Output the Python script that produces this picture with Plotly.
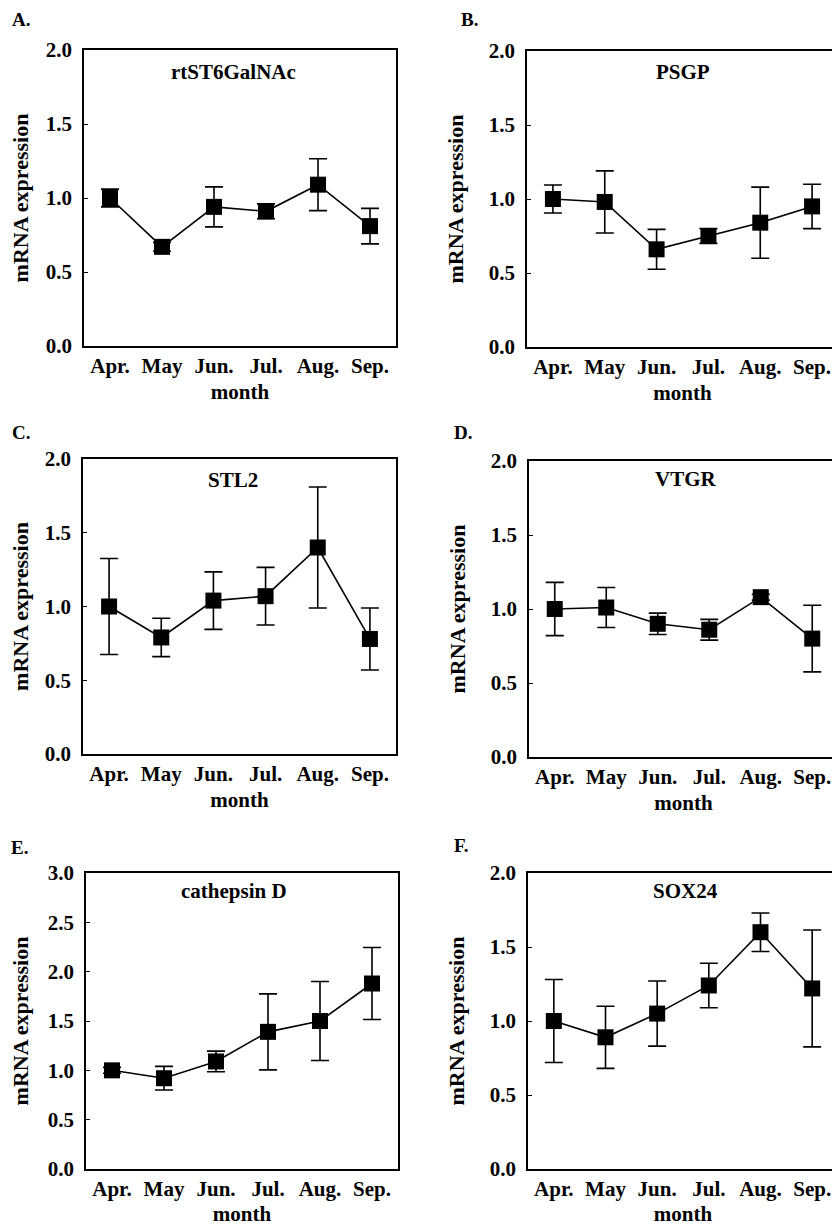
import plotly.graph_objects as go

months = ["Apr.", "May", "Jun.", "Jul.", "Aug.", "Sep."]
panel_labels = ["A.", "B.", "C.", "D.", "E.", "F."]
genes = ["rtST6GalNAc", "PSGP", "STL2", "VTGR", "cathepsin D", "SOX24"]

rtST6GalNAc_mean = [1.00, 0.67, 0.94, 0.91, 1.09, 0.81]
rtST6GalNAc_err = [0.06, 0.03, 0.135, 0.05, 0.175, 0.12]

PSGP_mean = [1.00, 0.98, 0.66, 0.75, 0.84, 0.95]
PSGP_err = [0.095, 0.21, 0.135, 0.05, 0.24, 0.15]

STL2_mean = [1.00, 0.79, 1.04, 1.07, 1.40, 0.78]
STL2_err = [0.325, 0.13, 0.195, 0.195, 0.41, 0.21]

VTGR_mean = [1.00, 1.01, 0.90, 0.86, 1.08, 0.80]
VTGR_err = [0.18, 0.135, 0.072, 0.07, 0.02, 0.225]

cathepsinD_mean = [1.00, 0.92, 1.09, 1.39, 1.50, 1.88]
cathepsinD_err = [0.03, 0.12, 0.105, 0.385, 0.40, 0.365]

SOX24_mean = [1.00, 0.89, 1.05, 1.24, 1.60, 1.22]
SOX24_err = [0.28, 0.21, 0.22, 0.15, 0.13, 0.395]

y_max = [2.0, 2.0, 2.0, 2.0, 3.0, 2.0]

means = [rtST6GalNAc_mean, PSGP_mean, STL2_mean, VTGR_mean, cathepsinD_mean, SOX24_mean]
errs = [rtST6GalNAc_err, PSGP_err, STL2_err, VTGR_err, cathepsinD_err, SOX24_err]

# page body has an 8px margin: the figure is drawn 8px right/down
OFF = 8
W, H = 840 - OFF, 1226 - OFF
# pixel boxes in page coordinates: left, right, top, bottom
boxes = [
    (84, 396, 50, 346),
    (527, 838, 51, 347),
    (83, 396, 459, 754),
    (529, 838, 461, 757),
    (86, 398, 873, 1169),
    (528, 838, 873, 1169),
]
title_pos = [(233, 72), (683, 72), (233, 480), (686, 479), (234, 891), (685, 891)]
label_pos = [(10, 19), (459, 19), (10, 432), (452, 432), (9, 847), (452, 845)]


def px(xp):
    return (xp - OFF) / W


def py(yp):
    return 1 - (yp - OFF) / H


FONT = "Liberation Serif"
FS = 21
fig = go.Figure()
annotations = []
layout = dict(
    width=W, height=H,
    margin=dict(l=0, r=0, t=0, b=0, autoexpand=False),
    paper_bgcolor="white", plot_bgcolor="white",
    showlegend=False,
    font=dict(family=FONT, color="black", size=18, weight="bold"),
)

for i in range(6):
    n = "" if i == 0 else str(i + 1)
    l, r, t, b = boxes[i]
    fig.add_trace(go.Scatter(
        x=months, y=means[i],
        mode="lines+markers",
        line=dict(color="black", width=1.6),
        marker=dict(symbol="square", size=16, color="black"),
        error_y=dict(type="data", array=errs[i], visible=True,
                     color="black", thickness=1.6, width=9),
        xaxis="x" + n, yaxis="y" + n,
        cliponaxis=False,
    ))
    layout["xaxis" + n] = dict(
        domain=[px(l), px(r)], anchor="y" + n, automargin=False,
        type="category", range=[-0.5, 5.5],
        showline=True, mirror=True, linecolor="black", linewidth=1.5,
        showgrid=False, zeroline=False, ticks="",
        tickfont=dict(family=FONT, size=FS, weight="bold"),
        ticklabelstandoff=0,
        title=dict(text="month", font=dict(family=FONT, size=FS, weight="bold"), standoff=7),
        fixedrange=True,
    )
    layout["yaxis" + n] = dict(
        domain=[py(b), py(t)], anchor="x" + n, automargin=False,
        range=[0, y_max[i]], dtick=0.5, tickformat=".1f",
        showline=True, mirror=True, linecolor="black", linewidth=1.5,
        showgrid=False, zeroline=False, ticks="inside", ticklen=4, tickcolor="black",
        tickfont=dict(family=FONT, size=FS, weight="bold"),
        ticklabelstandoff=6,
        title=dict(text="mRNA expression", font=dict(family=FONT, size=22, weight="bold"), standoff=19),
        fixedrange=True,
    )
    tx, ty = title_pos[i]
    annotations.append(dict(
        text=genes[i], xref="paper", yref="paper",
        x=px(tx), y=py(ty),
        xanchor="center", yanchor="middle", showarrow=False,
        font=dict(family=FONT, size=FS, weight="bold", color="black"),
    ))
    lx, ly = label_pos[i]
    annotations.append(dict(
        text=panel_labels[i], xref="paper", yref="paper",
        x=px(lx), y=py(ly),
        xanchor="left", yanchor="middle", showarrow=False,
        font=dict(family=FONT, size=19, weight="bold", color="black"),
    ))

layout["annotations"] = annotations
fig.update_layout(**layout)
fig.write_html("out.html")
